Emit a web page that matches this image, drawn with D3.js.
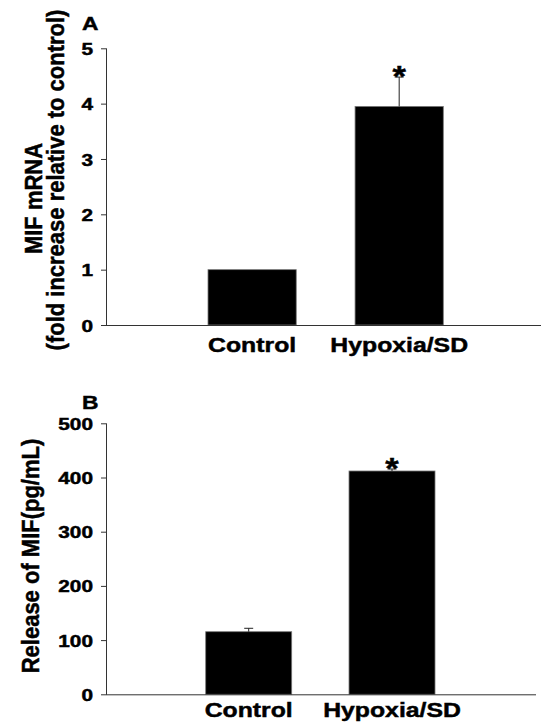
<!DOCTYPE html>
<html>
<head>
<meta charset="utf-8">
<script src="https://d3js.org/d3.v7.min.js"></script>
<style>
    body { margin: 0; background: #fff; }
    svg { display: block; }
    text { font-family: "Liberation Sans", Arial, sans-serif; font-weight: bold; fill: #000; stroke: #000; stroke-width: 0.45px; }
</style>
</head>
<body>
<script>

var categories = ['Control', 'Hypoxia/SD'];

// panel A - MIF mRNA, fold increase
var mrnaValues = [1.0, 3.95];
var mrnaErrors = [0, 0.53];
var mrnaTicks = [0, 1, 2, 3, 4, 5];

// panel B - release of MIF (pg/mL)
var releaseValues = [115.5, 412];
var releaseErrors = [6.3, 3.7];
var releaseTicks = [0, 100, 200, 300, 400, 500];

var significant = [false, true];

var svg = d3.select('body').append('svg')
    .attr('width', 541)
    .attr('height', 724);

function drawPanel(opts) {
    var g = svg.append('g');

    var y = d3.scaleLinear()
        .domain([0, d3.max(opts.ticks)])
        .range([opts.bottom, opts.top]);

    var x = d3.scaleBand()
        .domain(categories)
        .range([opts.barStart, opts.barEnd])
        .paddingInner(0.4)
        .paddingOuter(0);

    // bars
    g.selectAll('rect.bar')
        .data(opts.values)
        .enter().append('rect')
        .attr('class', 'bar')
        .attr('x', function (d, i) { return x(categories[i]); })
        .attr('y', function (d) { return y(d); })
        .attr('width', x.bandwidth())
        .attr('height', function (d) { return y(0) - y(d); })
        .attr('fill', '#000')
        .attr('stroke', '#777')
        .attr('stroke-width', 0.8);

    // error bars (upper only)
    opts.values.forEach(function (v, i) {
        var cx = x(categories[i]) + x.bandwidth() / 2;
        if (opts.errors[i] > 0) {
            g.append('line')
                .attr('x1', cx).attr('x2', cx)
                .attr('y1', y(v)).attr('y2', y(v + opts.errors[i]))
                .attr('stroke', '#222').attr('stroke-width', 1);
            g.append('line')
                .attr('x1', cx - 4.5).attr('x2', cx + 4.5)
                .attr('y1', y(v + opts.errors[i])).attr('y2', y(v + opts.errors[i]))
                .attr('stroke', '#222').attr('stroke-width', 1);
        }
        if (significant[i]) {
            g.append('text')
                .attr('transform', 'translate(' + cx + ',' + (y(v + opts.errors[i]) + 9) + ') scale(1.15,1)')
                .attr('text-anchor', 'middle')
                .style('font-size', '30px')
                .text('*');
        }
    });

    // y axis
    var yAxis = g.append('g')
        .attr('transform', 'translate(' + opts.axisX + ',0)')
        .call(d3.axisLeft(y).tickValues(opts.ticks).tickSize(5).tickFormat(d3.format('d')));
    yAxis.select('.domain').attr('stroke', '#333').attr('d', 'M0.5,' + opts.top + 'V' + (opts.bottom + 0.5));
    yAxis.selectAll('.tick line').attr('stroke', '#333');
    yAxis.selectAll('.tick text')
        .attr('x', 0)
        .attr('dy', '0.38em')
        .attr('transform', 'translate(-13,0) scale(1.3,1)')
        .style('font-size', '16px')
        .style('font-family', '"Liberation Sans", Arial, sans-serif')
        .style('font-weight', 'bold');

    // x axis baseline
    g.append('line')
        .attr('x1', opts.axisX).attr('x2', opts.axisEnd)
        .attr('y1', y(0) + 0.5).attr('y2', y(0) + 0.5)
        .attr('stroke', '#333').attr('stroke-width', 1);

    // category labels
    g.selectAll('text.cat')
        .data(categories)
        .enter().append('text')
        .attr('class', 'cat')
        .attr('transform', function (d) {
            return 'translate(' + (x(d) + x.bandwidth() / 2) + ',' + opts.labelY + ') scale(1.24,1)';
        })
        .attr('text-anchor', 'middle')
        .style('font-size', '20px')
        .text(function (d) { return d; });

    // panel letter
    g.append('text')
        .attr('transform', 'translate(82,' + opts.letterY + ') scale(1.2,1)')
        .style('font-size', '19px')
        .text(opts.letter);

    // y titles
    opts.titles.forEach(function (t) {
        g.append('text')
            .attr('transform', 'translate(' + t.x + ',' + t.y + ') rotate(-90) scale(1,1.12)')
            .attr('text-anchor', 'middle')
            .style('font-size', '22px')
            .text(t.text);
    });
}

drawPanel({
    letter: 'A',
    letterY: 30,
    values: mrnaValues,
    errors: mrnaErrors,
    ticks: mrnaTicks,
    top: 48.3,
    bottom: 325,
    axisX: 106,
    axisEnd: 541,
    barStart: 208,
    barEnd: 443.3,
    labelY: 352,
    titles: [
        { text: 'MIF mRNA', x: 41.5, y: 198.5 },
        { text: '(fold increase relative to control)', x: 64, y: 180 }
    ]
});

drawPanel({
    letter: 'B',
    letterY: 409,
    values: releaseValues,
    errors: releaseErrors,
    ticks: releaseTicks,
    top: 423.3,
    bottom: 694.3,
    axisX: 106,
    axisEnd: 536,
    barStart: 205.7,
    barEnd: 435,
    labelY: 717,
    titles: [
        { text: 'Release of MIF(pg/mL)', x: 39, y: 556 }
    ]
});

</script>
</body>
</html>
